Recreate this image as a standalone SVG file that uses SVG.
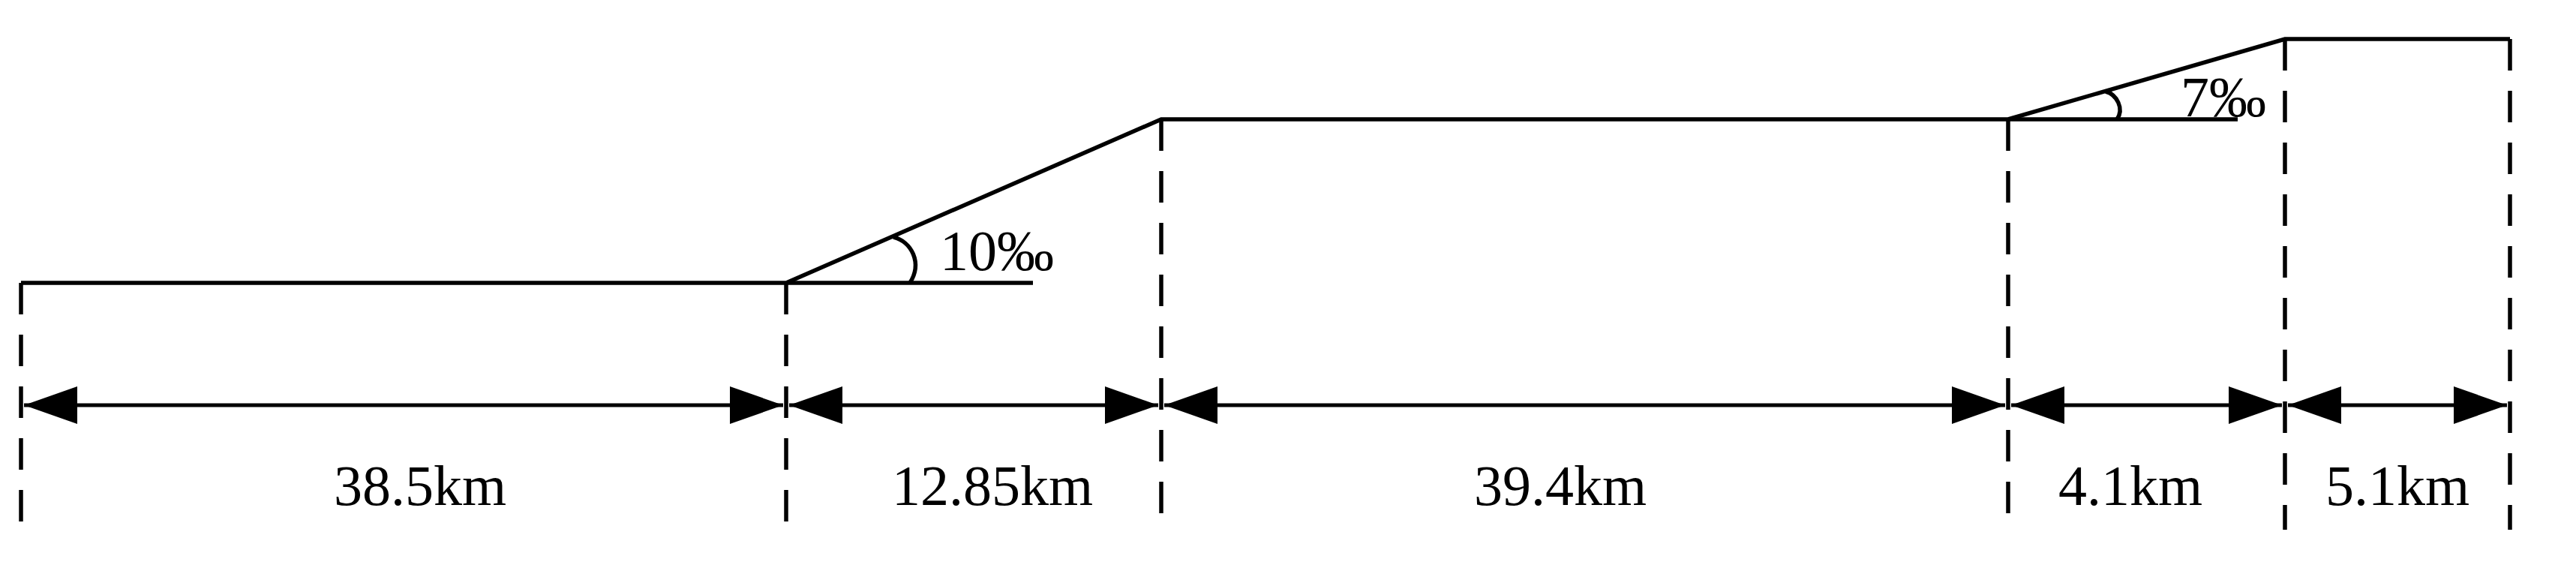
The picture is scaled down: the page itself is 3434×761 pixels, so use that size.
<svg xmlns="http://www.w3.org/2000/svg" width="3434" height="761" viewBox="0 0 3434 761">
<style>
.ln{fill:none;stroke:#000;stroke-width:5.5;stroke-linecap:butt;stroke-linejoin:miter}
.dash{fill:none;stroke:#000;stroke-width:5.5;stroke-dasharray:42 27}
.dim{fill:none;stroke:#000;stroke-width:5;marker-start:url(#ah);marker-end:url(#ah)}
.lbl{font-family:"Liberation Serif","Times New Roman",serif;font-size:76px;fill:#000}
.mid{text-anchor:middle}
</style>
<defs>
<marker id="ah" markerUnits="userSpaceOnUse" markerWidth="74" markerHeight="56" viewBox="0 -28 74 56" refX="71" refY="0" orient="auto-start-reverse">
<path d="M0,-25 L71,0 L0,25 z" fill="#000"/>
</marker>
</defs>
<rect width="3434" height="761" fill="#fff"/>
<g id="profile">
<polyline class="ln" points="28,377 1048,377 1548,159 2677,159 3046,52 3346,52"/>
<line class="ln" x1="1048" y1="377" x2="1377" y2="377"/>
<line class="ln" x1="2677" y1="159" x2="2983" y2="159"/>
</g>
<g id="grade-10">
<path class="ln" d="M1191,316 C1215,322 1230,350 1213,377"/>
<text class="lbl" x="1253" y="360">10‰</text>
</g>
<g id="grade-7">
<path class="ln" d="M2807,122 C2822,126 2832,145 2822,159"/>
<text class="lbl" x="2907" y="155">7‰</text>
</g>
<g id="extension-lines">
<line class="dash" x1="28" y1="377" x2="28" y2="697"/>
<line class="dash" x1="1048" y1="377" x2="1048" y2="697"/>
<line class="dash" x1="1548" y1="159" x2="1548" y2="686"/>
<line class="dash" x1="2677" y1="159" x2="2677" y2="686"/>
<line class="dash" x1="3046" y1="52" x2="3046" y2="706"/>
<line class="dash" x1="3346" y1="52" x2="3346" y2="706"/>
</g>
<g id="connectors">
<line class="dim" x1="32" y1="540" x2="1044" y2="540"/>
<line class="dim" x1="1052" y1="540" x2="1544" y2="540"/>
<line class="dim" x1="1552" y1="540" x2="2673" y2="540"/>
<line class="dim" x1="2681" y1="540" x2="3042" y2="540"/>
<line class="dim" x1="3050" y1="540" x2="3342" y2="540"/>
</g>
<g id="labels">
<text class="lbl mid" x="560" y="673">38.5km</text>
<text class="lbl mid" x="1323" y="673">12.85km</text>
<text class="lbl mid" x="2080" y="673">39.4km</text>
<text class="lbl mid" x="2840" y="673">4.1km</text>
<text class="lbl mid" x="3196" y="673">5.1km</text>
</g>
</svg>
